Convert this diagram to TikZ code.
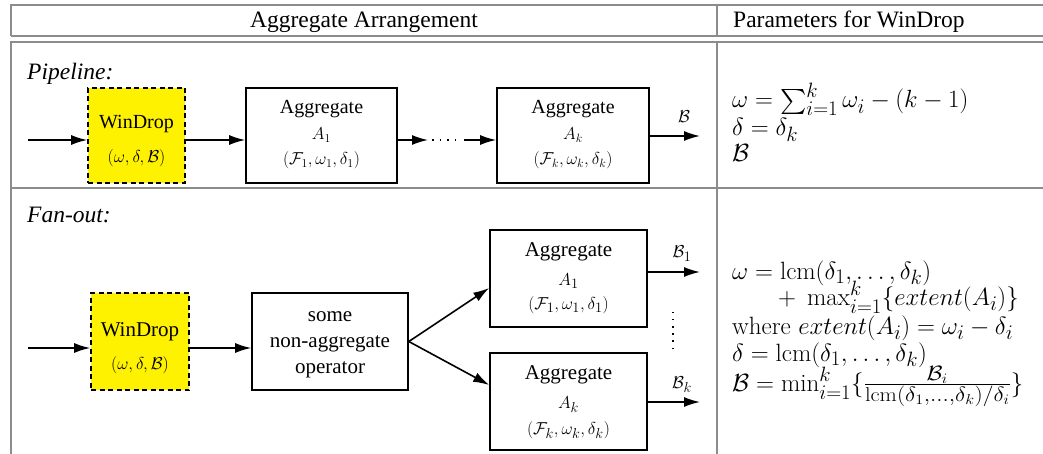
\documentclass[tikz,border=0pt]{standalone}
\usepackage{graphicx}
\usepackage{fontspec}
\newfontfamily\tms{Liberation Serif}
\usetikzlibrary{arrows.meta,calc}
% scalable large operators and roomier script sizes for the formulas
\DeclareFontShape{OMX}{cmex}{m}{n}{<->cmex10}{}
\DeclareMathSizes{25}{25}{20}{15}

\begin{document}
\begin{tikzpicture}[x=1pt,y=-1pt,
  rule/.style={draw=black!45,line width=1.5pt},
  opbox/.style={draw=black,line width=1.6pt,inner sep=0pt},
  dropbox/.style={opbox,fill=yellow,dash pattern=on 5pt off 3.5pt},
  flow/.style={line width=1.6pt,-{Latex[length=16pt,width=10pt]}},
  dotsline/.style={line width=1.6pt,dash pattern=on 1.6pt off 6pt},
  head/.style={font=\tms\fontsize{23.5}{28}\selectfont,inner sep=0pt},
  rowlabel/.style={font=\tms\itshape\fontsize{23.5}{28}\selectfont,inner sep=0pt,anchor=base west},
  boxtxt/.style={font=\tms\fontsize{20}{24}\selectfont,inner sep=0pt,anchor=base},
  boxtxtb/.style={font=\tms\fontsize{21}{25}\selectfont,inner sep=0pt,anchor=base},
  boxmath/.style={font=\fontsize{18}{22}\selectfont,inner sep=0pt,anchor=base},
  boxmathb/.style={font=\fontsize{19}{23}\selectfont,inner sep=0pt,anchor=base},
  param/.style={font=\fontsize{25}{30}\selectfont,inner sep=0pt,anchor=base west},
]
\useasboundingbox (0,0) rectangle (1043,454);

% table rules
\draw[rule] (11,36) |- (1043,5);
\draw[rule] (11,36) -- (1043,36);
\draw[rule] (11,454) |- (1043,42);
\draw[rule] (11,188) -- (1043,188);
\draw[rule] (717,5) -- (717,36);
\draw[rule] (717,42) -- (717,454);

% header
\node[head,anchor=base] (h1) at (364,28) {Aggregate Arrangement};
\node[head,anchor=base west] (h2) at (733,28) {Parameters for WinDrop};

% ---------------- pipeline ----------------
\node[rowlabel] (pl) at (27,80) {Pipeline:};

\node[dropbox,minimum width=97pt,minimum height=95pt] (wd1) at (136.5,135.5) {};
\node[opbox,minimum width=151pt,minimum height=95pt] (a1) at (321.5,135.5) {};
\node[opbox,minimum width=152pt,minimum height=95pt] (ak) at (573,135.5) {};

\node[boxtxt] (wd1t) at (136.5,129) {WinDrop};
\node[boxmath] (wd1m) at (136.5,162.5) {$(\omega, \delta, \mathcal{B})$};
\node[boxtxt] (a1t) at (321.5,114) {Aggregate};
\node[boxmath] (a1n) at (321.5,140) {$A_1$};
\node[boxmath] (a1m) at (321.5,164.5) {$(\mathcal{F}_1, \omega_1, \delta_1)$};
\node[boxtxt] (akt) at (573,114) {Aggregate};
\node[boxmath] (akn) at (573,140) {$A_k$};
\node[boxmath] (akm) at (573,164.5) {$(\mathcal{F}_k, \omega_k, \delta_k)$};

\coordinate (in1) at (28,140);
\coordinate (d1) at (428,140);
\coordinate (d2) at (464,140);
\coordinate (out1) at (700,136);
\draw[flow] (in1) -- (in1 -| wd1.west);
\draw[flow] (wd1.east |- in1) -- (a1.west |- in1);
\draw[flow] (a1.east |- in1) -- (d1);
\draw[dotsline] ([xshift=4pt]d1) -- ([xshift=-3pt]d2);
\draw[flow] (d2) -- (ak.west |- d2);
\draw[flow] (ak.east |- out1) -- (out1);
\node[boxmath] (lb) at (684,123) {$\mathcal{B}$};

% ---------------- fan-out ----------------
\node[rowlabel] (fo) at (27,223) {Fan-out:};

\node[dropbox,minimum width=98pt,minimum height=97pt] (wd2) at (140,341.5) {};
\node[opbox,minimum width=156pt,minimum height=97pt] (op) at (330,341.5) {};
\node[opbox,minimum width=157pt,minimum height=97pt] (b1) at (568.5,278.5) {};
\node[opbox,minimum width=157pt,minimum height=97pt] (bk) at (568.5,401.5) {};

\node[boxtxtb] (wd2t) at (140,336.5) {WinDrop};
\node[boxmathb] (wd2m) at (140,369.5) {$(\omega, \delta, \mathcal{B})$};
\node[boxtxtb] (opt1) at (330,321) {some};
\node[boxtxtb] (opt2) at (330,347) {non-aggregate};
\node[boxtxtb] (opt3) at (330,373) {operator};
\node[boxtxtb] (b1t) at (568.5,256.5) {Aggregate};
\node[boxmathb] (b1n) at (568.5,285) {$A_1$};
\node[boxmathb] (b1m) at (568.5,309.5) {$(\mathcal{F}_1, \omega_1, \delta_1)$};
\node[boxtxtb] (bkt) at (568.5,379.5) {Aggregate};
\node[boxmathb] (bkn) at (568.5,408) {$A_k$};
\node[boxmathb] (bkm) at (568.5,434.5) {$(\mathcal{F}_k, \omega_k, \delta_k)$};

\coordinate (in2) at (28,348);
\coordinate (o1) at (700,272);
\coordinate (o2) at (700,402);
\coordinate (v1) at (673,312);
\coordinate (v2) at (673,350);
\draw[flow] (in2) -- (in2 -| wd2.west);
\draw[flow] (wd2.east |- in2) -- (op.west |- in2);
\draw[flow] (op.east) -- ($(b1.west)+(0,9.5)$);
\draw[flow] (op.east) -- ($(bk.west)+(0,-16.5)$);
\draw[flow] (b1.east |- o1) -- (o1);
\draw[flow] (bk.east |- o2) -- (o2);
\draw[dotsline,line width=1.3pt,dash pattern=on 1.3pt off 5.8pt] (v1) -- (v2);
\node[boxmathb] (lb1) at (682,258) {$\mathcal{B}_1$};
\node[boxmathb] (lbk) at (682,388) {$\mathcal{B}_k$};

% ---------------- parameters ----------------
\node[param] (p1a) at (732,108) {$\omega = \sum_{i=1}^{k} \omega_i - (k-1)$};
\node[param] (p1b) at (732,136) {$\delta = \delta_k$};
\node[param] (p1c) at (732,162) {$\mathcal{B}$};

\node[param] (p2a) at (732,279) {$\omega = \mathrm{lcm}(\delta_1, \ldots, \delta_k)$};
\node[param] (p2b) at (778,305) {$+\;\max_{i=1}^{k}\{extent(A_i)\}$};
\node[param] (p2c) at (732,334) {where $extent(A_i) = \omega_i - \delta_i$};
\node[param] (p2d) at (732,361) {$\delta = \mathrm{lcm}(\delta_1, \ldots, \delta_k)$};
\node[param] (p2e) at (732,391) {$\mathcal{B} = \min_{i=1}^{k}\{\scalebox{1.12}[1]{$\frac{\mathcal{B}_i}{\mathrm{lcm}(\delta_1,\ldots,\delta_k)/\delta_i}$}\}$};
\end{tikzpicture}
\end{document}
